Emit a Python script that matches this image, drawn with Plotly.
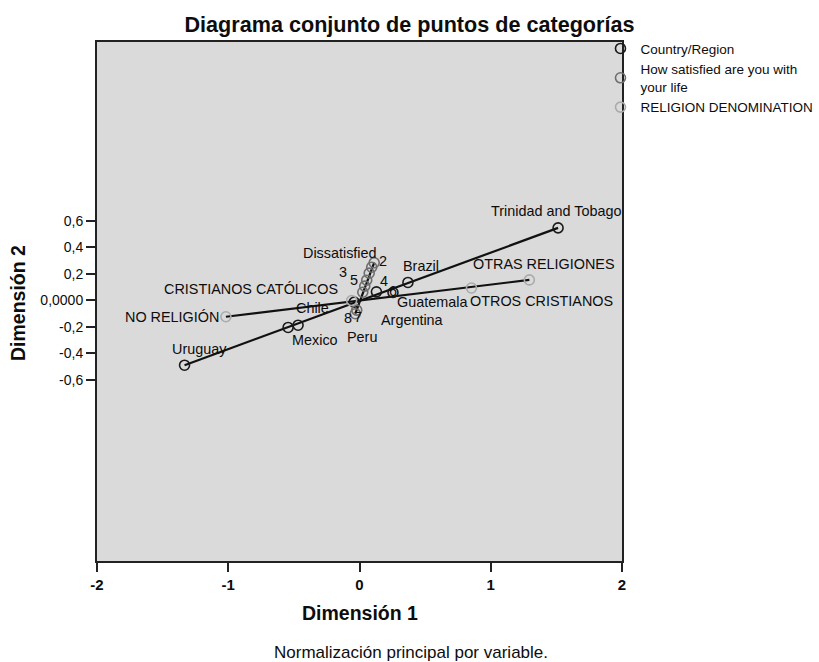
import plotly.graph_objects as go

# ---- data (Dimensión 1, Dimensión 2) ----
country_names = ["Uruguay", "Chile", "Mexico", "Peru", "Argentina", "Guatemala", "Brazil", "Trinidad and Tobago"]
country_d1 = [-1.333, -0.544, -0.468, -0.040, 0.129, 0.255, 0.369, 1.513]
country_d2 = [-0.491, -0.206, -0.189, -0.015, 0.063, 0.058, 0.134, 0.546]

satis_names = ["Dissatisfied", "2", "3", "4", "5", "6", "7", "8"]
satis_d1 = [0.093, 0.112, 0.074, 0.040, 0.055, 0.025, -0.021, -0.032]
satis_d2 = [0.249, 0.283, 0.204, 0.106, 0.151, 0.060, -0.075, -0.102]

relig_names = ["NO RELIGIÓN", "CRISTIANOS CATÓLICOS", "OTROS CRISTIANOS", "OTRAS RELIGIONES"]
relig_d1 = [-1.018, -0.060, 0.853, 1.294]
relig_d2 = [-0.125, -0.003, 0.092, 0.153]

x_ticks = [-2, -1, 0, 1, 2]
y_ticks = [-0.6, -0.4, -0.2, 0.0, 0.2, 0.4, 0.6]
y_ticktext = ["-0,6", "-0,4", "-0,2", "0,0000", "0,2", "0,4", "0,6"]

# ---- label placement (pixel offsets: dx right, dy down) ----
country_off = [(15, -16), (24, -19), (17, 15), (8, 35), (36, 28), (39, 9), (13, -16), (-2, -17)]
satis_off = [(-32, -14), (9, -2), (-26, -1), (19, -5), (-13, 0), (30, -1), (1, 7), (-7, 4)]
relig_off = [("right", -5, 0), ("right", -12, -12), ("left", -3, 13), ("center", 15, -16)]

FONT = "Liberation Sans, Arial, sans-serif"
LBL = 14.4
TXT = "#0d0d0d"

fig = go.Figure()


def extreme_line(xs, ys, key):
    idx = sorted(range(len(xs)), key=key)
    i0, i1 = idx[0], idx[-1]
    return [xs[i0], xs[i1]], [ys[i0], ys[i1]]


groups = [
    ("Country/Region", country_d1, country_d2, "#1a1a1a", lambda i: country_d1[i]),
    ("How satisfied are you with<br>your life", satis_d1, satis_d2, "#6e6e6e", lambda i: satis_d2[i]),
    ("RELIGION DENOMINATION", relig_d1, relig_d2, "#ababab", lambda i: relig_d1[i]),
]

for name, xs, ys, col, key in groups:
    lx, ly = extreme_line(xs, ys, key)
    fig.add_trace(go.Scatter(x=lx, y=ly, mode="lines", line=dict(color="#111111", width=2.2),
                             showlegend=False, hoverinfo="skip"))

for name, xs, ys, col, key in groups:
    fig.add_trace(go.Scatter(x=xs, y=ys, mode="markers", name=name,
                             marker=dict(symbol="circle-open", size=10, color=col,
                                         line=dict(width=1.6, color=col))))

annots = []
for n, x, y, (dx, dy) in zip(country_names, country_d1, country_d2, country_off):
    annots.append(dict(x=x, y=y, text=n, showarrow=False, xshift=dx, yshift=-dy,
                       font=dict(size=LBL, color=TXT, family=FONT)))
for n, x, y, (dx, dy) in zip(satis_names, satis_d1, satis_d2, satis_off):
    annots.append(dict(x=x, y=y, text=n, showarrow=False, xshift=dx, yshift=-dy,
                       font=dict(size=LBL, color=TXT, family=FONT)))
for n, x, y, (anc, dx, dy) in zip(relig_names, relig_d1, relig_d2, relig_off):
    annots.append(dict(x=x, y=y, text=n, showarrow=False, xanchor=anc, xshift=dx, yshift=-dy,
                       font=dict(size=LBL, color=TXT, family=FONT)))

# axis titles and footnote
annots.append(dict(xref="paper", yref="paper", x=0.5, y=0, yanchor="middle", yshift=-52,
                   text="<b>Dimensión 1</b>", showarrow=False,
                   font=dict(size=19.5, color=TXT, family=FONT)))
annots.append(dict(xref="paper", yref="paper", x=0, y=0.497, xanchor="center", yanchor="middle",
                   xshift=-79, textangle=-90, text="<b>Dimensión 2</b>", showarrow=False,
                   font=dict(size=19.5, color=TXT, family=FONT)))
annots.append(dict(xref="paper", yref="paper", x=0.5975, y=0, yanchor="middle", yshift=-91,
                   text="Normalización principal por variable.", showarrow=False,
                   font=dict(size=17, color=TXT, family=FONT)))

fig.update_layout(
    width=819, height=662,
    margin=dict(l=97, r=196.5, t=42, b=101, autoexpand=False),
    paper_bgcolor="white", plot_bgcolor="#dadada",
    title=dict(text="<b>Diagrama conjunto de puntos de categorías</b>", x=0.5, xref="container",
               y=1 - 24 / 662, yref="container", xanchor="center", yanchor="middle",
               font=dict(size=21.6, color=TXT, family=FONT)),
    xaxis=dict(range=[-2, 2], tickvals=x_ticks, ticktext=[str(v) for v in x_ticks],
               showgrid=False, zeroline=False, showline=True, mirror=True, linecolor="#222222",
               linewidth=2, ticks="outside", ticklen=9, tickwidth=2, tickcolor="#222222",
               tickfont=dict(size=15, color=TXT, family=FONT, weight="bold")),
    yaxis=dict(range=[-1.97, 1.95], tickvals=y_ticks, ticktext=y_ticktext,
               showgrid=False, zeroline=False, showline=True, mirror=True, linecolor="#222222",
               linewidth=2, ticks="outside", ticklen=9, tickwidth=2, tickcolor="#222222",
               tickfont=dict(size=14, color=TXT, family=FONT)),
    legend=dict(x=0.959, y=1.017, xanchor="left", yanchor="top", bgcolor="rgba(0,0,0,0)",
                font=dict(size=13.5, color=TXT, family=FONT), tracegroupgap=0),
    annotations=annots,
    showlegend=True,
)

fig.write_html("out.html")
